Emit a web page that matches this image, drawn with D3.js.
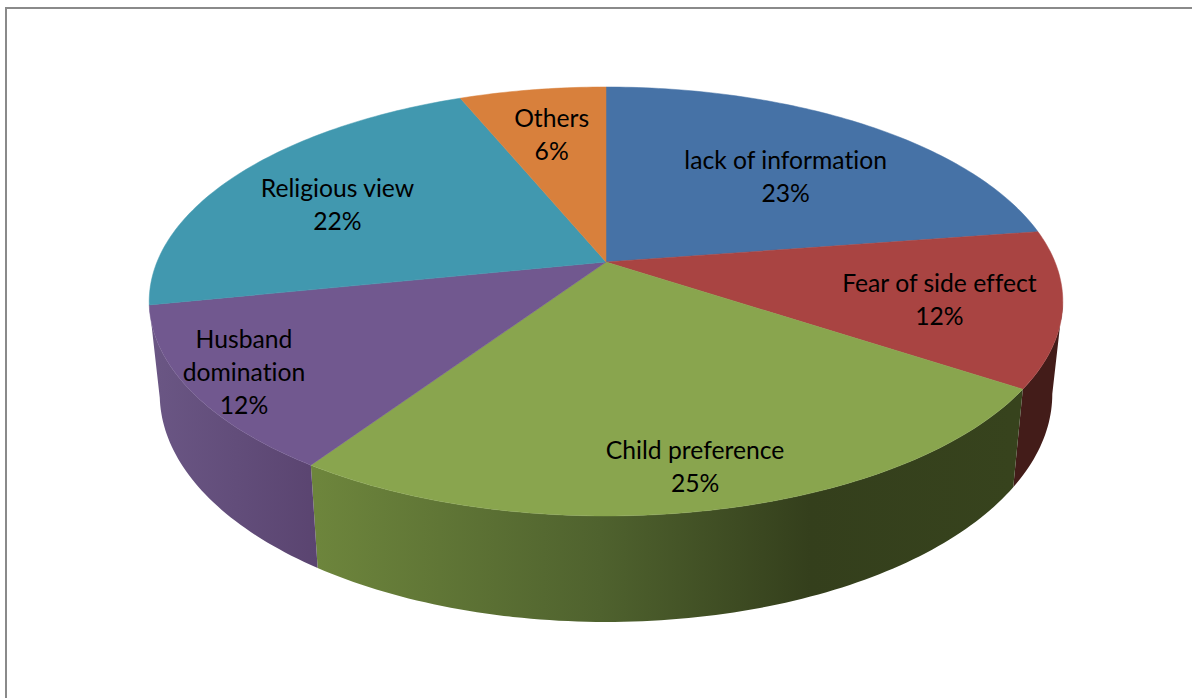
<!DOCTYPE html>
<html>
<head>
<meta charset="utf-8">
<script src="https://cdn.jsdelivr.net/npm/d3@7"></script>
<style>
  html, body { margin: 0; padding: 0; background: #fff; overflow: hidden; }
  text { font-family: Lato, "Open Sans", sans-serif; font-size: 24.7px; fill: #000; font-variant-ligatures: none; }
</style>
</head>
<body>
<div id="chart"></div>
<script>
// data
var categories = ["lack of information", "Fear of side effect", "Child preference", "Husband domination", "Religious view", "Others"];
var shares = [22.6, 11.7, 25.1, 12.4, 22.0, 6.2];
var colors = ["#4672a6", "#a94442", "#89a54e", "#71588f", "#4198af", "#d8803c"];

// layout
var svgWidth = 1192;
var svgHeight = 698;
var apexX = 606;
var apexY = 262;
var tilt = -0.184;      // perspective term
var spanX = 449;
var spanY = 159;
var deg = Math.PI / 180;
var frontStart = 100.6 * deg;
var frontEnd = 259.4 * deg;

// radius and angle nudge of each label, same order as categories
var labelRadius = [0.62, 0.74, 0.854, 0.88, 0.694, 0.705];
var labelNudge = [3.6, 1.5, 0, 0.4, -3.3, 0];
var labelBreak = { "Husband domination": ["Husband", "domination"] };

// top face: circle in perspective
function topPoint(angle, r) {
  var u = r * Math.sin(angle);
  var v = -r * Math.cos(angle);
  var w = 1 + tilt * v;
  return [apexX + spanX * u / w, (apexY + spanY * v) / w];
}

// bottom rim: top rim pushed down and slightly in
function bottomPoint(angle) {
  var p = topPoint(angle, 1);
  return [apexX + 0.977 * (p[0] - apexX), 1.063 * p[1] + 73.5];
}

var svg = d3.select("#chart")
  .append("svg")
  .attr("width", svgWidth)
  .attr("height", svgHeight);

// side shading
var defs = svg.append("defs");
var wallShades = [
  null,
  [[1000, "#431c19"], [1070, "#431c19"]],
  [[318, "#6d853c"], [600, "#4f622e"], [810, "#343f1c"], [1012, "#37431d"]],
  [[155, "#6a5684"], [318, "#5a4470"]],
  null,
  null
];
wallShades.forEach(function(stops, i) {
  if (!stops) return;
  var grad = defs.append("linearGradient")
    .attr("id", "wall" + i)
    .attr("gradientUnits", "userSpaceOnUse")
    .attr("x1", stops[0][0]).attr("y1", 0)
    .attr("x2", stops[stops.length - 1][0]).attr("y2", 0);
  stops.forEach(function(s) {
    grad.append("stop")
      .attr("offset", (s[0] - stops[0][0]) / (stops[stops.length - 1][0] - stops[0][0]))
      .attr("stop-color", s[1]);
  });
});

// chart frame
svg.append("path")
  .attr("d", "M6,700V8H1192")
  .attr("fill", "none")
  .attr("stroke", "#8a8a8a")
  .attr("stroke-width", 2);

var pie = d3.pie().sort(null).value(function(d) { return d; });
var arcs = pie(shares);
var line = d3.line();

function samples(a0, a1) {
  var n = Math.max(2, Math.ceil((a1 - a0) / deg));
  return d3.range(n + 1).map(function(k) { return a0 + (a1 - a0) * k / n; });
}

// walls first, top faces over them
var walls = svg.append("g");
arcs.forEach(function(d, i) {
  var a0 = Math.max(d.startAngle, frontStart);
  var a1 = Math.min(d.endAngle, frontEnd);
  if (a1 <= a0 || !wallShades[i]) return;
  var rim = samples(a0, a1);
  var pts = rim.map(function(a) { return topPoint(a, 1); })
    .concat(rim.slice().reverse().map(bottomPoint));
  walls.append("path")
    .attr("d", line(pts) + "Z")
    .attr("fill", "url(#wall" + i + ")");
});

var faces = svg.append("g");
arcs.forEach(function(d, i) {
  var pts = [[apexX, apexY]].concat(samples(d.startAngle, d.endAngle).map(function(a) {
    return topPoint(a, 1);
  }));
  faces.append("path")
    .attr("d", line(pts) + "Z")
    .attr("fill", colors[i])
    .attr("stroke", colors[i])
    .attr("stroke-width", 0.5);
});

// labels
var labels = svg.append("g").attr("text-anchor", "middle");
arcs.forEach(function(d, i) {
  var mid = (d.startAngle + d.endAngle) / 2 + labelNudge[i] * deg;
  var p = topPoint(mid, labelRadius[i]);
  var rows = (labelBreak[categories[i]] || [categories[i]]).concat([Math.round(shares[i]) + "%"]);
  var text = labels.append("text").attr("x", p[0]).attr("y", p[1] - (rows.length - 1) * 16.5 + 8.5);
  rows.forEach(function(row, k) {
    text.append("tspan").attr("x", p[0]).attr("dy", k ? 33 : 0).text(row);
  });
});
</script>
</body>
</html>
